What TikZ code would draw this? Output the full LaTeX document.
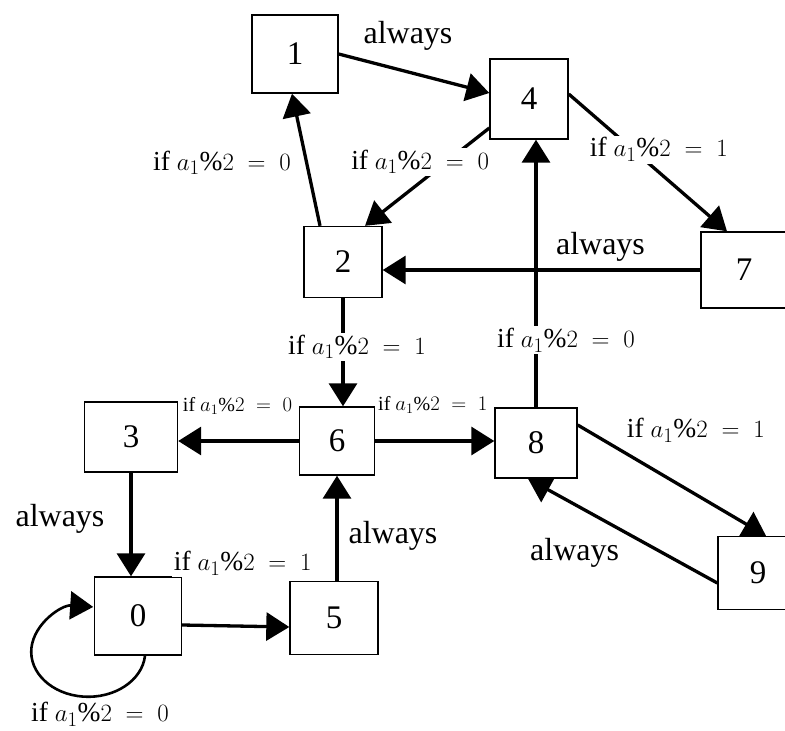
\documentclass[tikz,border=0pt]{standalone}
\usepackage{fontspec}
\setmainfont{Liberation Serif}
\usetikzlibrary{arrows.meta, positioning, calc}

\newcommand{\cond}[1]{if $a_1\%2 \;=\; #1$}

\begin{document}
\begin{tikzpicture}[
      x=1pt, y=-1pt,
      stbox/.style={draw, line width=1.4pt, minimum width=80pt, minimum height=74pt, font=\fontsize{33}{38}\selectfont},
      edge/.style={-{Triangle[length=23pt,width=28pt]}, line width=3.3pt},
      lbl/.style={font=\fontsize{32}{38}\selectfont, inner sep=1pt},
      cnd/.style={font=\fontsize{27.5}{31}\selectfont, inner sep=2pt, fill=white},
      small cnd/.style={font=\fontsize{20}{23}\selectfont, inner sep=1pt}
    ]
      \useasboundingbox (0,0) rectangle (785,731);
      \node[stbox, minimum width=86pt, minimum height=78pt] (s1) at (295,54) {1};
      \node[stbox, minimum width=78pt, minimum height=80pt] (s4) at (529,99) {4};
      \node[stbox, minimum width=78pt, minimum height=71pt] (s2) at (343,262) {2};
      \node[stbox, minimum width=86pt, minimum height=76pt] (s7) at (744,270) {7};
      \node[stbox, minimum width=93pt, minimum height=70pt] (s3) at (131,437) {3};
      \node[stbox, minimum width=75pt, minimum height=68pt] (s6) at (337,441) {6};
      \node[stbox, minimum width=82pt, minimum height=70pt] (s8) at (536,443) {8};
      \node[stbox, minimum width=80pt, minimum height=73pt] (s9) at (758,573) {9};
      \node[stbox, minimum width=87pt, minimum height=78pt] (s0) at (138,616) {0};
      \node[stbox, minimum width=88pt, minimum height=73pt] (s5) at (334,618) {5};

      \draw[edge] (s1.east) -- ([yshift=6pt]s4.west)
        node[lbl, midway, xshift=-6pt, yshift=38pt] {always};
      \draw[edge] ([xshift=-23pt]s2.north) -- ([xshift=-3pt]s1.south)
        node[cnd, midway, xshift=-84pt, yshift=-3pt] {\cond{0}};
      \draw[edge] ([yshift=-29pt]s4.west) -- ([xshift=22pt]s2.north)
        node[cnd, midway, xshift=-7pt, yshift=15pt] {\cond{0}};
      \draw[edge] ([yshift=5pt]s4.east) -- ([xshift=-17pt]s7.north)
        node[cnd, midway, xshift=11pt, yshift=13pt] {\cond{1}};
      \draw[edge] (s7.west) -- (s7.west -| s2.east)
        node[lbl, midway, xshift=59pt, yshift=23pt] {always};
      \draw[edge] (s8.north) -- (s8.north |- s4.south)
        node[cnd, pos=.25, xshift=30pt] {\cond{0}};
      \draw[edge] (s2.south) -- (s2.south |- s6.north)
        node[cnd, pos=.45, xshift=14pt] {\cond{1}};
      \draw[edge] (s6.west) -- (s6.west -| s3.east)
        node[small cnd, midway, xshift=-1pt, yshift=35pt] {\cond{0}};
      \draw[edge] (s6.east) -- (s6.east -| s8.west)
        node[small cnd, midway, xshift=-2pt, yshift=36pt] {\cond{1}};
      \draw[edge] (s3.south) -- (s3.south |- s0.north)
        node[lbl, midway, xshift=-71pt, yshift=6pt] {always};
      \draw[edge] ([yshift=-9pt]s0.east) -- ([yshift=-9pt]s5.west)
        node[cnd, midway, xshift=7pt, yshift=63pt] {\cond{1}};
      \draw[edge] ([xshift=3pt]s5.north) -- (s6.south)
        node[lbl, midway, xshift=56pt, yshift=-8pt] {always};
      \draw[edge] ([yshift=18pt]s8.east) -- ([xshift=8pt]s9.north)
        node[cnd, midway, xshift=24pt, yshift=50pt] {\cond{1}};
      \draw[edge] ([yshift=-10pt]s9.west) -- ([xshift=-8pt]s8.south)
        node[lbl, midway, xshift=-48pt, yshift=-22pt] {always};
      \draw[edge, line width=2.6pt] (s0.-80) arc[start angle=5, end angle=275, x radius=57, y radius=45];
      \node[cnd] (loop0) at (100,714) {\cond{0}};
    \end{tikzpicture}
\end{document}
